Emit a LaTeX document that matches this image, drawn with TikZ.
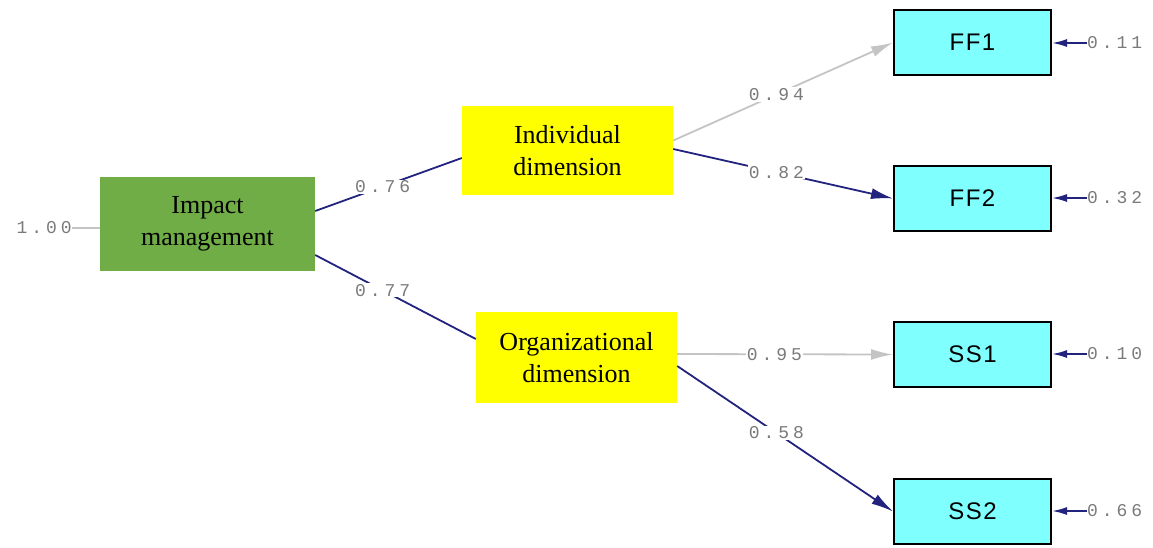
\documentclass[tikz,border=0pt]{standalone}
\usepackage{fontspec}
\setmainfont{Liberation Serif}
\newfontfamily\lblfont[LetterSpace=22]{Liberation Mono}
\newfontfamily\obsfont[LetterSpace=6]{Liberation Sans}
\usetikzlibrary{arrows.meta,calc}
\definecolor{lvgreen}{HTML}{70AD47}
\definecolor{lvyellow}{HTML}{FFFF00}
\definecolor{obscyan}{HTML}{80FFFF}
\definecolor{pathnavy}{HTML}{22227F}
\definecolor{pathgray}{HTML}{C4C4C4}
\definecolor{lblgray}{HTML}{7A7A7A}
\tikzset{
  latent/.style={fill=#1, draw=none, inner sep=0pt, align=center, font=\fontsize{26}{32}\selectfont},
  obsbox/.style={fill=obscyan, draw=black, line width=2pt, minimum width=157pt, minimum height=65pt, inner sep=0pt, font=\obsfont\fontsize{24}{28}\selectfont},
  coef/.style={fill=white, inner sep=1pt, text=lblgray, font=\lblfont\fontsize{18}{20}\selectfont},
  navyline/.style={draw=pathnavy, line width=1.8pt},
  grayline/.style={draw=pathgray, line width=1.8pt},
  navyarrow/.style={navyline, -{Latex[length=22pt,width=11pt]}},
  grayarrow/.style={grayline, -{Latex[length=22pt,width=11pt]}},
  resarrow/.style={navyline, -{Latex[length=15pt,width=8pt]}},
}
\begin{document}
\begin{tikzpicture}[x=1pt,y=-1pt]
\useasboundingbox (0,0) rectangle (1153,547);
% latent nodes
\node[latent=lvgreen, minimum width=215pt, minimum height=94pt] (imp) at (207.5,224) {Impact\\management};
\node[latent=lvyellow, minimum width=211pt, minimum height=89pt] (ind) at (567.5,150.5) {Individual\\dimension};
\node[latent=lvyellow, minimum width=201pt, minimum height=91pt] (org) at (576.5,357.5) {Organizational\\dimension};
% observed
\node[obsbox] (ff1) at (972.5,42.5) {FF1};
\node[obsbox] (ff2) at (972.5,198.5) {FF2};
\node[obsbox] (ss1) at (972.5,354.5) {SS1};
\node[obsbox] (ss2) at (972.5,511.5) {SS2};
% left variance
\node[coef, anchor=east, fill=none, inner sep=0pt] (v0) at (72,228) {1.00};
\draw[grayline] (v0.east) -- (v0.east -| imp.west);
% structural paths
\draw[navyline] ([yshift=13pt]imp.east) -- node[coef, pos=0.46] (c1) {0.76} ([yshift=-7.5pt]ind.west);
\draw[navyline] ([yshift=-31pt]imp.east) -- node[coef, pos=0.42] (c2) {0.77} ([yshift=18.5pt]org.west);
% measurement paths
\draw[grayarrow] ([yshift=10pt]ind.east) -- node[coef, pos=0.47] (c3) {0.94} (ff1.west);
\draw[navyarrow] ([yshift=1.5pt]ind.east) -- node[coef, pos=0.47] (c4) {0.82} (ff2.west);
\draw[grayarrow] ([yshift=3.5pt]org.east) -- node[coef, pos=0.45] (c5) {0.95} (ss1.west);
\draw[navyarrow] ([yshift=-8.5pt]org.east) -- node[coef, pos=0.46] (c6) {0.58} (ss2.west);
% residuals
\node[coef, anchor=west, fill=none, inner sep=0pt] (r1) at (1087,43) {0.11};
\node[coef, anchor=west, fill=none, inner sep=0pt] (r2) at (1087,198) {0.32};
\node[coef, anchor=west, fill=none, inner sep=0pt] (r3) at (1087,354) {0.10};
\node[coef, anchor=west, fill=none, inner sep=0pt] (r4) at (1087,511) {0.66};
\foreach \r/\o in {r1/ff1, r2/ff2, r3/ss1, r4/ss2}
  \draw[resarrow] (\r.west) -- (\r.west -| \o.east);
\end{tikzpicture}
\end{document}
